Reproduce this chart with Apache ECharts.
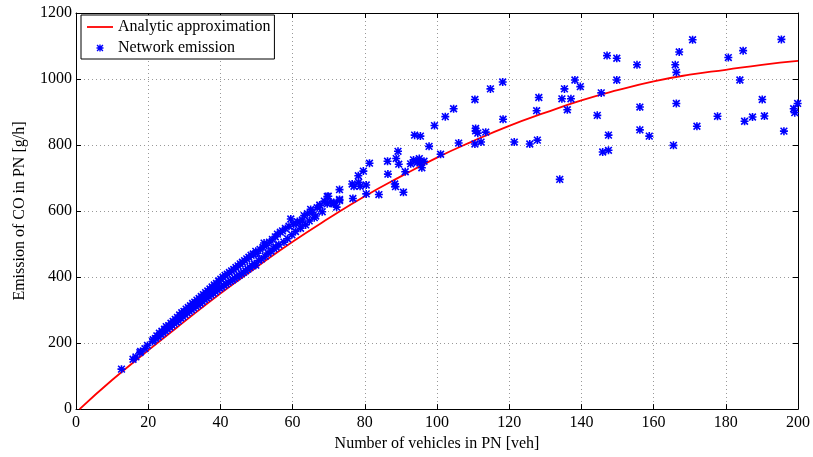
<!DOCTYPE html>
<html>
<head>
<meta charset="utf-8">
<script src="https://cdn.jsdelivr.net/npm/echarts@6/dist/echarts.min.js"></script>
<style>html,body{margin:0;padding:0;background:#fff;}#c{width:813px;height:457px;}</style>
</head>
<body>
<div id="c"></div>
<script>
// Analytic approximation curve
const curveX = [1, 10, 20, 30, 40, 50, 60, 70, 80, 90, 100, 110, 120, 130, 140, 150, 160, 170, 180, 190, 200];
const curveY = [0, 88, 178, 265, 350, 430, 507, 578, 645, 705, 762, 812, 858, 898, 935, 966, 993, 1013, 1028, 1043, 1055];

// Network emission scatter
const bandPoints = [
  [12.6,121],[15.8,151],[16.6,158],[17.7,171],[17.9,175],[19.1,183],[19.8,193],[21.2,205],[21.4,210],
  [22.0,214],[22.4,222],[22.8,219],[23.1,230],[23.5,226],[23.8,236],[24.1,231],[24.5,242],[24.8,237],
  [25.0,250],[25.3,243],[25.7,253],[26.0,248],[26.3,260],[26.6,254],[26.9,266],[27.2,259],[27.5,272],
  [27.8,264],[28.1,278],[28.4,268],[28.7,285],[29.0,276],[29.3,292],[29.6,280],[29.9,296],[30.2,286],
  [30.5,303],[30.8,292],[31.1,308],[31.4,296],[31.7,313],[32.0,301],[32.3,320],[32.6,306],[32.9,324],
  [33.2,311],[33.5,330],[33.8,315],[34.1,335],[34.4,320],[34.7,341],[35.0,326],[35.3,347],[35.6,332],
  [35.9,353],[36.2,336],[36.5,358],[36.8,341],[37.1,364],[37.4,346],[37.7,370],[38.0,351],[38.3,376],
  [38.6,356],[38.9,381],[39.2,361],[39.5,388],[39.8,366],[40.1,394],[40.4,370],[40.7,399],[41.0,375],
  [41.3,405],[41.6,379],[41.9,409],[42.2,384],[42.5,414],[42.8,388],[43.1,419],[43.4,392],[43.7,423],
  [44.0,396],[44.3,429],[44.6,401],[44.9,434],[45.2,405],[45.5,440],[45.8,410],[46.1,445],[46.4,414],
  [46.7,450],[47.0,419],[47.3,455],[47.6,424],[47.9,460],[48.2,429],[48.5,466],[48.8,434],[49.1,470],
  [49.4,440],[49.8,478],[49.8,436],[50.2,472],[50.6,450],[51.0,484],[51.4,455],[51.8,490],[52.1,503],
  [52.4,463],[52.8,496],[53.2,472],[53.6,506],[54.0,478],[54.4,514],[54.8,486],[55.2,522],[55.4,491],
  [55.8,530],[56.2,498],[56.6,536],[57.2,540],[57.6,506],[58.0,547],[58.6,516],[59.0,554],[59.5,576],
  [59.8,528],[60.3,560],[60.8,538],[61.3,568],[61.8,565],[62.2,548],[62.7,573],[63.2,586],[63.6,558],
  [64.1,592],[64.6,570],[65.0,605],[65.5,596],[66.0,580],[66.4,585],[66.8,610],[67.5,618],[67.6,617],
  [68.2,598],[68.8,630],[69.6,644],[69.6,622],[69.9,645],[70.6,627],[71.4,625],[71.5,622],[72.2,612],
  [73.0,665],[73.0,635],[73.0,632]
];
const sparsePoints = [
  [76.5,682],[76.7,638],[77.0,675],[78.2,707],[78.3,687],[78.7,675],[79.6,721],[80.4,679],[80.4,652],
  [81.3,745],[83.9,650],[86.3,751],[86.4,712],[88.3,682],[88.5,674],[88.7,759],[89.2,781],[89.4,742],
  [90.7,657],[91.2,719],[92.7,743],[93.5,755],[93.8,830],[95.4,827],[94.5,747],[95.1,759],[95.4,747],
  [95.8,731],[96.4,751],[97.8,796],[99.3,859],[101.0,772],[102.3,886],[104.6,910],[106.0,806],
  [110.5,938],[110.7,850],[110.7,843],[111.3,836],[110.5,803],[112.2,809],[113.5,839],[114.8,970],
  [118.2,991],[118.3,878],[121.4,809],[125.7,803],[127.8,815],[127.6,904],[128.2,944],[134.0,696],
  [134.6,940],[136.1,907],[135.3,970],[137.1,940],[138.2,997],[139.7,977],[144.4,890],[145.5,958],
  [145.9,779],[147.5,784],[147.5,830],[147.1,1071],[149.8,1063],[149.8,997],[155.4,1043],[156.2,915],
  [156.2,846],[158.8,827],[165.5,799],[166.3,926],[166.0,1043],[166.3,1020],[167.1,1082],[170.8,1119],
  [172.0,857],[177.7,887],[180.7,1065],[183.9,997],[184.8,1086],[185.2,872],[187.4,885],[190.1,938],
  [190.7,888],[195.4,1120],[196.1,842],[198.8,910],[199.1,898],[199.9,926]
];
const scatterPoints = bandPoints.concat(sparsePoints);

const xTicks = {min: 0, max: 200, interval: 20};
const yTicks = {min: 0, max: 1200, interval: 200};

const FONT = 'Liberation Serif';
const star = 'path://M4,0H6V10H4Z M0,4H10V6H0Z M1.5,0.1L9.9,8.5L8.5,9.9L0.1,1.5Z M8.5,0.1L9.9,1.5L1.5,9.9L0.1,8.5Z';

const chart = echarts.init(document.getElementById('c'), null, {renderer: 'canvas'});
const axisLine = {show: true, onZero: false, lineStyle: {color: '#000', width: 1}};
const tick = {show: true, inside: true, length: 5, lineStyle: {color: '#000'}};
const split = {show: true, lineStyle: {color: '#999', type: [1, 3], width: 1}};
const label = {color: '#000', fontFamily: FONT, fontSize: 16, formatter: v => String(v)};

chart.setOption({
  animation: false,
  backgroundColor: '#fff',
  grid: {left: 76, right: 12, top: 13, bottom: 42, containLabel: false},
  legend: {
    left: 81, top: 15, orient: 'vertical',
    itemWidth: 26, itemHeight: 7, itemGap: 5,
    padding: [4, 4, 3, 6],
    borderColor: '#000', borderWidth: 1, backgroundColor: '#fff',
    textStyle: {fontFamily: FONT, fontSize: 16, color: '#000'},
    data: [
      {name: 'Analytic approximation', icon: 'path://M0,0H26V1.8H0Z', itemStyle: {color: '#ff0000'}},
      {name: 'Network emission'}
    ]
  },
  xAxis: [
    {type: 'value', position: 'bottom', min: xTicks.min, max: xTicks.max, interval: xTicks.interval,
      name: 'Number of vehicles in PN [veh]', nameLocation: 'middle', nameGap: 26,
      nameTextStyle: {fontFamily: FONT, fontSize: 16, color: '#000'},
      axisLine: axisLine, axisTick: tick, axisLabel: Object.assign({margin: 6}, label), splitLine: split},
    {type: 'value', position: 'top', min: xTicks.min, max: xTicks.max, interval: xTicks.interval,
      axisLine: axisLine, axisTick: tick, axisLabel: {show: false}, splitLine: {show: false}}
  ],
  yAxis: [
    {type: 'value', position: 'left', min: yTicks.min, max: yTicks.max, interval: yTicks.interval,
      name: 'Emission of CO in PN [g/h]', nameLocation: 'middle', nameGap: 48,
      nameTextStyle: {fontFamily: FONT, fontSize: 16, color: '#000'},
      axisLine: axisLine, axisTick: tick, axisLabel: Object.assign({margin: 4}, label), splitLine: split},
    {type: 'value', position: 'right', min: yTicks.min, max: yTicks.max, interval: yTicks.interval,
      axisLine: axisLine, axisTick: tick, axisLabel: {show: false}, splitLine: {show: false}}
  ],
  series: [
    {name: 'Analytic approximation', type: 'line', xAxisIndex: 0, yAxisIndex: 0,
      data: curveX.map((x, i) => [x, curveY[i]]), smooth: true, symbol: 'none', showSymbol: false,
      lineStyle: {color: '#ff0000', width: 1.8}, itemStyle: {color: '#ff0000'}, z: 2},
    {name: 'Network emission', type: 'scatter', xAxisIndex: 0, yAxisIndex: 0,
      data: scatterPoints, symbol: star, symbolSize: 8,
      itemStyle: {color: '#0000ff', opacity: 1}, z: 3}
  ]
});
</script>
</body>
</html>
